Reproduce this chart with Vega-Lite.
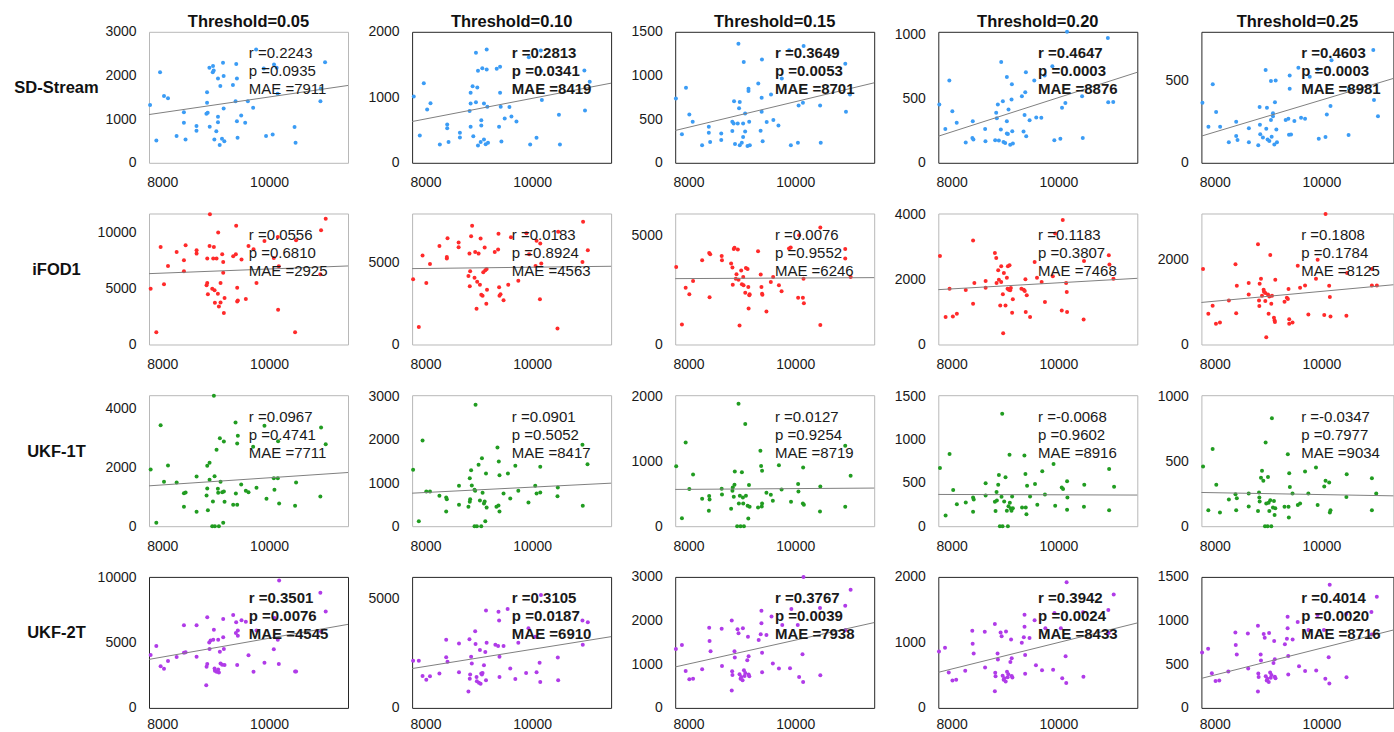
{
"$schema":"https://vega.github.io/schema/vega-lite/v6.json",
"padding":{"left":13,"top":12.8,"right":0,"bottom":0},
"background":"white",
"config":{
 "font":"Liberation Sans",
 "view":{"strokeWidth":1},
 "axis":{"grid":false,"ticks":false,"domain":false,"labelFontSize":14,"labelColor":"#1a1a1a","labelPadding":13,"labelFont":"Liberation Sans"},
 "axisY":{"titleAngle":0,"titleAlign":"center","titleBaseline":"middle","titleX":-93,"titleY":56,"titleFontSize":16.5,"titleFontWeight":"bold","titleColor":"#111111","titleFont":"Liberation Sans"},
 "title":{"fontSize":16.5,"fontWeight":"bold","offset":1.5,"frame":"group","anchor":"middle","color":"#111111","font":"Liberation Sans"}
},
"datasets":{
"a1":[{"x":7770,"y":1321},{"x":7888,"y":511},{"x":7957,"y":2076},{"x":8031,"y":1527},{"x":8106,"y":1481},{"x":8267,"y":611},{"x":8404,"y":1160},{"x":8404,"y":916},{"x":8435,"y":534},{"x":8640,"y":840},{"x":8640,"y":733},{"x":8838,"y":1618},{"x":8838,"y":1374},{"x":8826,"y":1122},{"x":8850,"y":1145},{"x":8882,"y":2176},{"x":8888,"y":824},{"x":8950,"y":2214},{"x":8963,"y":2115},{"x":8945,"y":2076},{"x":8975,"y":534},{"x":9012,"y":725},{"x":9043,"y":1931},{"x":9043,"y":1053},{"x":9043,"y":931},{"x":9087,"y":1756},{"x":9075,"y":405},{"x":9118,"y":550},{"x":9137,"y":2290},{"x":9149,"y":1985},{"x":9149,"y":1244},{"x":9162,"y":496},{"x":9323,"y":1779},{"x":9373,"y":1412},{"x":9385,"y":2260},{"x":9398,"y":1931},{"x":9398,"y":954},{"x":9410,"y":573},{"x":9478,"y":1084},{"x":9553,"y":916},{"x":9603,"y":1412},{"x":9702,"y":1260},{"x":9758,"y":2596},{"x":9901,"y":2160},{"x":9944,"y":611},{"x":10068,"y":649},{"x":10093,"y":2252},{"x":10143,"y":2176},{"x":10161,"y":1580},{"x":10478,"y":817},{"x":10497,"y":458},{"x":10963,"y":1412},{"x":10969,"y":1695},{"x":11050,"y":2305}],
"a2":[{"x":7781,"y":1013},{"x":7894,"y":417},{"x":7969,"y":1216},{"x":8032,"y":814},{"x":8095,"y":911},{"x":8270,"y":280},{"x":8408,"y":585},{"x":8408,"y":529},{"x":8433,"y":316},{"x":8646,"y":458},{"x":8646,"y":387},{"x":8847,"y":1069},{"x":8847,"y":906},{"x":8828,"y":789},{"x":8847,"y":550},{"x":8884,"y":1170},{"x":8897,"y":407},{"x":8947,"y":1679},{"x":8947,"y":926},{"x":8972,"y":1150},{"x":8985,"y":1405},{"x":8985,"y":265},{"x":9035,"y":316},{"x":9047,"y":651},{"x":9047,"y":570},{"x":9066,"y":1445},{"x":9097,"y":906},{"x":9097,"y":356},{"x":9129,"y":285},{"x":9148,"y":1730},{"x":9148,"y":1425},{"x":9160,"y":855},{"x":9173,"y":305},{"x":9336,"y":1435},{"x":9380,"y":550},{"x":9399,"y":1466},{"x":9399,"y":1069},{"x":9411,"y":855},{"x":9424,"y":326},{"x":9486,"y":677},{"x":9574,"y":850},{"x":9612,"y":707},{"x":9706,"y":631},{"x":9938,"y":1613},{"x":9963,"y":280},{"x":10082,"y":382},{"x":10163,"y":1715},{"x":10182,"y":957},{"x":10170,"y":1400},{"x":10502,"y":733},{"x":10521,"y":280},{"x":10979,"y":1410},{"x":10991,"y":799},{"x":11079,"y":1237}],
"a3":[{"x":7763,"y":737},{"x":7876,"y":328},{"x":7952,"y":859},{"x":8015,"y":553},{"x":8078,"y":469},{"x":8254,"y":202},{"x":8380,"y":412},{"x":8380,"y":344},{"x":8405,"y":237},{"x":8613,"y":336},{"x":8613,"y":260},{"x":8821,"y":469},{"x":8821,"y":363},{"x":8853,"y":706},{"x":8846,"y":450},{"x":8871,"y":214},{"x":8922,"y":450},{"x":8935,"y":1363},{"x":8960,"y":695},{"x":8947,"y":626},{"x":8960,"y":202},{"x":8998,"y":229},{"x":9023,"y":450},{"x":9023,"y":294},{"x":9035,"y":1153},{"x":9061,"y":565},{"x":9061,"y":359},{"x":9105,"y":191},{"x":9124,"y":821},{"x":9124,"y":847},{"x":9137,"y":469},{"x":9149,"y":202},{"x":9307,"y":908},{"x":9351,"y":366},{"x":9370,"y":744},{"x":9370,"y":584},{"x":9376,"y":1183},{"x":9389,"y":248},{"x":9465,"y":466},{"x":9546,"y":782},{"x":9590,"y":489},{"x":9685,"y":427},{"x":9748,"y":966},{"x":9886,"y":1290},{"x":9918,"y":202},{"x":10050,"y":229},{"x":10063,"y":656},{"x":10144,"y":687},{"x":10157,"y":1336},{"x":10466,"y":656},{"x":10478,"y":229},{"x":10938,"y":1134},{"x":10951,"y":584},{"x":11026,"y":782}],
"a4":[{"x":7769,"y":453},{"x":7882,"y":264},{"x":7957,"y":640},{"x":8013,"y":402},{"x":8095,"y":311},{"x":8264,"y":158},{"x":8396,"y":324},{"x":8389,"y":194},{"x":8408,"y":181},{"x":8628,"y":264},{"x":8634,"y":168},{"x":8816,"y":176},{"x":8835,"y":389},{"x":8847,"y":347},{"x":8866,"y":453},{"x":8885,"y":173},{"x":8922,"y":259},{"x":8929,"y":785},{"x":8960,"y":479},{"x":8972,"y":161},{"x":9004,"y":155},{"x":9035,"y":668},{"x":9035,"y":324},{"x":9035,"y":228},{"x":9054,"y":225},{"x":9066,"y":415},{"x":9098,"y":140},{"x":9123,"y":492},{"x":9129,"y":611},{"x":9136,"y":246},{"x":9148,"y":150},{"x":9317,"y":518},{"x":9348,"y":243},{"x":9367,"y":373},{"x":9380,"y":549},{"x":9392,"y":705},{"x":9398,"y":207},{"x":9461,"y":332},{"x":9549,"y":640},{"x":9586,"y":352},{"x":9681,"y":350},{"x":9744,"y":679},{"x":9888,"y":751},{"x":9925,"y":176},{"x":10038,"y":187},{"x":10069,"y":428},{"x":10132,"y":466},{"x":10163,"y":1020},{"x":10445,"y":518},{"x":10458,"y":194},{"x":10928,"y":972},{"x":10935,"y":472},{"x":11029,"y":474}],
"a5":[{"x":7769,"y":364},{"x":7882,"y":219},{"x":7963,"y":476},{"x":8026,"y":308},{"x":8101,"y":219},{"x":8264,"y":125},{"x":8402,"y":249},{"x":8402,"y":162},{"x":8427,"y":138},{"x":8640,"y":210},{"x":8640,"y":125},{"x":8816,"y":107},{"x":8841,"y":338},{"x":8847,"y":231},{"x":8853,"y":174},{"x":8903,"y":154},{"x":8954,"y":563},{"x":8979,"y":334},{"x":8966,"y":206},{"x":8991,"y":142},{"x":9023,"y":132},{"x":9054,"y":496},{"x":9054,"y":259},{"x":9067,"y":158},{"x":9092,"y":300},{"x":9092,"y":283},{"x":9117,"y":111},{"x":9129,"y":368},{"x":9142,"y":500},{"x":9155,"y":202},{"x":9167,"y":125},{"x":9330,"y":259},{"x":9380,"y":267},{"x":9405,"y":530},{"x":9405,"y":449},{"x":9392,"y":170},{"x":9430,"y":172},{"x":9493,"y":253},{"x":9568,"y":577},{"x":9618,"y":273},{"x":9693,"y":267},{"x":9781,"y":522},{"x":9932,"y":567},{"x":9950,"y":146},{"x":10076,"y":156},{"x":10101,"y":293},{"x":10170,"y":344},{"x":10189,"y":623},{"x":10509,"y":168},{"x":10515,"y":449},{"x":10972,"y":684},{"x":10985,"y":381},{"x":11060,"y":283}],
"b1":[{"x":7781,"y":4985},{"x":7887,"y":1104},{"x":7968,"y":8716},{"x":8031,"y":5373},{"x":8106,"y":7015},{"x":8268,"y":8268},{"x":8405,"y":7522},{"x":8405,"y":6537},{"x":8436,"y":8865},{"x":8642,"y":8418},{"x":8642,"y":8119},{"x":8842,"y":7671},{"x":8842,"y":5492},{"x":8829,"y":5283},{"x":8854,"y":4477},{"x":8885,"y":8805},{"x":8892,"y":11641},{"x":8954,"y":7671},{"x":8966,"y":8716},{"x":8935,"y":4985},{"x":8979,"y":4836},{"x":8985,"y":3731},{"x":9016,"y":7671},{"x":9041,"y":4537},{"x":9047,"y":10000},{"x":9060,"y":3403},{"x":9091,"y":5492},{"x":9091,"y":3761},{"x":9122,"y":8060},{"x":9141,"y":7373},{"x":9141,"y":6418},{"x":9153,"y":2806},{"x":9166,"y":4149},{"x":9328,"y":7880},{"x":9378,"y":8060},{"x":9384,"y":10597},{"x":9403,"y":5075},{"x":9403,"y":3851},{"x":9415,"y":3940},{"x":9484,"y":7582},{"x":9565,"y":4060},{"x":9615,"y":8806},{"x":9709,"y":8507},{"x":9765,"y":5492},{"x":9914,"y":9254},{"x":10089,"y":7731},{"x":10164,"y":9612},{"x":10170,"y":3104},{"x":10183,"y":6985},{"x":10488,"y":1104},{"x":10507,"y":9314},{"x":10962,"y":6269},{"x":10975,"y":10209},{"x":11062,"y":11224}],
"b2":[{"x":7769,"y":3996},{"x":7876,"y":1066},{"x":7946,"y":5451},{"x":8016,"y":3771},{"x":8085,"y":4938},{"x":8262,"y":6045},{"x":8401,"y":5266},{"x":8401,"y":5368},{"x":8414,"y":6516},{"x":8622,"y":6250},{"x":8622,"y":5963},{"x":8806,"y":4200},{"x":8825,"y":5573},{"x":8831,"y":3565},{"x":8838,"y":4487},{"x":8856,"y":6639},{"x":8875,"y":7274},{"x":8920,"y":4098},{"x":8932,"y":5676},{"x":8958,"y":2192},{"x":8970,"y":3852},{"x":8996,"y":5573},{"x":9021,"y":3668},{"x":9034,"y":6495},{"x":9046,"y":3053},{"x":9071,"y":2991},{"x":9084,"y":4426},{"x":9110,"y":5942},{"x":9122,"y":4549},{"x":9141,"y":2500},{"x":9147,"y":4631},{"x":9154,"y":3360},{"x":9299,"y":5676},{"x":9362,"y":5819},{"x":9369,"y":6782},{"x":9381,"y":3504},{"x":9388,"y":2991},{"x":9407,"y":3073},{"x":9464,"y":2705},{"x":9552,"y":3668},{"x":9603,"y":6577},{"x":9741,"y":3914},{"x":9893,"y":6823},{"x":9943,"y":5532},{"x":10064,"y":4815},{"x":10083,"y":6352},{"x":10152,"y":6188},{"x":10146,"y":2766},{"x":10171,"y":4958},{"x":10488,"y":6905},{"x":10475,"y":984},{"x":10943,"y":5061},{"x":10955,"y":7520},{"x":11044,"y":5778}],
"b3":[{"x":7769,"y":3559},{"x":7876,"y":920},{"x":7946,"y":2608},{"x":8015,"y":2301},{"x":8085,"y":2915},{"x":8255,"y":3866},{"x":8387,"y":4203},{"x":8406,"y":4142},{"x":8394,"y":2163},{"x":8621,"y":4065},{"x":8627,"y":3866},{"x":8798,"y":3712},{"x":8823,"y":3528},{"x":8829,"y":2746},{"x":8848,"y":4387},{"x":8861,"y":4433},{"x":8886,"y":3022},{"x":8899,"y":3221},{"x":8924,"y":4356},{"x":8937,"y":2976},{"x":8956,"y":874},{"x":8987,"y":3390},{"x":9000,"y":2761},{"x":9025,"y":3099},{"x":9031,"y":2715},{"x":9063,"y":2378},{"x":9076,"y":3513},{"x":9107,"y":3467},{"x":9120,"y":2638},{"x":9126,"y":1657},{"x":9139,"y":2255},{"x":9145,"y":2301},{"x":9303,"y":4280},{"x":9353,"y":3206},{"x":9366,"y":2638},{"x":9378,"y":2332},{"x":9385,"y":2286},{"x":9460,"y":1519},{"x":9542,"y":2869},{"x":9586,"y":3099},{"x":9694,"y":2715},{"x":9744,"y":2439},{"x":9883,"y":4403},{"x":9915,"y":4449},{"x":10054,"y":2148},{"x":10073,"y":5016},{"x":10143,"y":2148},{"x":10155,"y":3022},{"x":10162,"y":1887},{"x":10470,"y":5369},{"x":10470,"y":890},{"x":10937,"y":4387},{"x":10937,"y":3942},{"x":11038,"y":3099}],
"b4":[{"x":7781,"y":2719},{"x":7887,"y":841},{"x":7961,"y":1713},{"x":8023,"y":862},{"x":8098,"y":944},{"x":8265,"y":1672},{"x":8402,"y":3191},{"x":8402,"y":1252},{"x":8426,"y":1888},{"x":8637,"y":1949},{"x":8637,"y":1744},{"x":8811,"y":2811},{"x":8836,"y":2657},{"x":8842,"y":1888},{"x":8873,"y":2278},{"x":8886,"y":1990},{"x":8911,"y":1200},{"x":8929,"y":2401},{"x":8929,"y":1919},{"x":8960,"y":1539},{"x":8966,"y":349},{"x":8979,"y":2196},{"x":9010,"y":1200},{"x":9035,"y":2052},{"x":9048,"y":1713},{"x":9054,"y":2401},{"x":9072,"y":1683},{"x":9085,"y":2432},{"x":9097,"y":1662},{"x":9110,"y":1734},{"x":9134,"y":975},{"x":9147,"y":1385},{"x":9308,"y":1713},{"x":9352,"y":1683},{"x":9371,"y":1642},{"x":9383,"y":2001},{"x":9389,"y":995},{"x":9408,"y":1508},{"x":9470,"y":841},{"x":9556,"y":2534},{"x":9600,"y":2052},{"x":9687,"y":1919},{"x":9749,"y":1303},{"x":9897,"y":2093},{"x":9941,"y":3406},{"x":10064,"y":1047},{"x":10083,"y":3817},{"x":10146,"y":1888},{"x":10158,"y":1611},{"x":10164,"y":995},{"x":10481,"y":2565},{"x":10474,"y":770},{"x":10946,"y":2739},{"x":10958,"y":2452},{"x":11033,"y":2021}],
"b5":[{"x":7781,"y":1780},{"x":7880,"y":724},{"x":7961,"y":913},{"x":8023,"y":488},{"x":8098,"y":520},{"x":8265,"y":1039},{"x":8389,"y":1890},{"x":8402,"y":740},{"x":8414,"y":1386},{"x":8637,"y":1449},{"x":8637,"y":1181},{"x":8811,"y":2362},{"x":8830,"y":1039},{"x":8836,"y":906},{"x":8842,"y":1433},{"x":8867,"y":1551},{"x":8886,"y":1150},{"x":8917,"y":1291},{"x":8923,"y":1244},{"x":8948,"y":1213},{"x":8948,"y":1024},{"x":8966,"y":173},{"x":8998,"y":1181},{"x":9010,"y":724},{"x":9023,"y":1134},{"x":9041,"y":2110},{"x":9060,"y":961},{"x":9073,"y":1150},{"x":9110,"y":630},{"x":9122,"y":567},{"x":9128,"y":528},{"x":9135,"y":1528},{"x":9308,"y":1008},{"x":9352,"y":1102},{"x":9371,"y":1071},{"x":9383,"y":1307},{"x":9396,"y":598},{"x":9396,"y":488},{"x":9458,"y":520},{"x":9556,"y":1858},{"x":9600,"y":1339},{"x":9693,"y":1394},{"x":9755,"y":709},{"x":9898,"y":1551},{"x":9929,"y":2000},{"x":10053,"y":693},{"x":10077,"y":3080},{"x":10145,"y":1386},{"x":10158,"y":1118},{"x":10170,"y":661},{"x":10468,"y":677},{"x":10480,"y":1685},{"x":10946,"y":1780},{"x":10946,"y":1394},{"x":11039,"y":1394}],
"c1":[{"x":7781,"y":1926},{"x":7887,"y":113},{"x":7968,"y":3433},{"x":8031,"y":1507},{"x":8106,"y":2062},{"x":8268,"y":1484},{"x":8405,"y":1122},{"x":8405,"y":657},{"x":8436,"y":1144},{"x":8642,"y":1688},{"x":8642,"y":487},{"x":8842,"y":2051},{"x":8842,"y":1280},{"x":8829,"y":1042},{"x":8854,"y":544},{"x":8885,"y":2153},{"x":8885,"y":1575},{"x":8935,"y":0},{"x":8948,"y":838},{"x":8966,"y":4430},{"x":8979,"y":1700},{"x":8985,"y":0},{"x":9016,"y":2595},{"x":9041,"y":1269},{"x":9047,"y":1133},{"x":9060,"y":0},{"x":9078,"y":2991},{"x":9091,"y":1507},{"x":9122,"y":1156},{"x":9141,"y":113},{"x":9153,"y":2878},{"x":9153,"y":1178},{"x":9166,"y":827},{"x":9328,"y":725},{"x":9372,"y":3524},{"x":9378,"y":1110},{"x":9403,"y":725},{"x":9403,"y":2810},{"x":9415,"y":3070},{"x":9478,"y":1416},{"x":9565,"y":1201},{"x":9615,"y":1156},{"x":9702,"y":2697},{"x":9765,"y":1303},{"x":9952,"y":929},{"x":9914,"y":3410},{"x":10089,"y":1632},{"x":10101,"y":1235},{"x":10164,"y":1632},{"x":10189,"y":770},{"x":10170,"y":2889},{"x":10488,"y":691},{"x":10507,"y":1484},{"x":10962,"y":1008},{"x":10975,"y":3354},{"x":11062,"y":2787}],
"c2":[{"x":7769,"y":1306},{"x":7876,"y":116},{"x":7946,"y":1987},{"x":8016,"y":804},{"x":8085,"y":804},{"x":8262,"y":703},{"x":8389,"y":665},{"x":8401,"y":626},{"x":8389,"y":340},{"x":8629,"y":935},{"x":8629,"y":495},{"x":8806,"y":448},{"x":8831,"y":1113},{"x":8831,"y":564},{"x":8838,"y":626},{"x":8856,"y":1299},{"x":8869,"y":943},{"x":8920,"y":843},{"x":8932,"y":819},{"x":8939,"y":2814},{"x":8920,"y":0},{"x":8964,"y":0},{"x":8996,"y":1422},{"x":9021,"y":595},{"x":9046,"y":0},{"x":9059,"y":1577},{"x":9071,"y":773},{"x":9097,"y":526},{"x":9110,"y":572},{"x":9122,"y":116},{"x":9135,"y":1221},{"x":9147,"y":433},{"x":9331,"y":448},{"x":9350,"y":1824},{"x":9369,"y":479},{"x":9375,"y":1500},{"x":9388,"y":1183},{"x":9388,"y":340},{"x":9464,"y":758},{"x":9546,"y":1221},{"x":9590,"y":642},{"x":9685,"y":1399},{"x":9741,"y":819},{"x":9931,"y":549},{"x":10058,"y":935},{"x":10083,"y":758},{"x":10152,"y":781},{"x":10152,"y":1376},{"x":10481,"y":897},{"x":10475,"y":696},{"x":10943,"y":1886},{"x":10949,"y":472},{"x":11038,"y":1438}],
"c3":[{"x":7769,"y":923},{"x":7876,"y":124},{"x":7946,"y":1289},{"x":8015,"y":572},{"x":8085,"y":799},{"x":8255,"y":423},{"x":8387,"y":464},{"x":8394,"y":412},{"x":8381,"y":237},{"x":8621,"y":577},{"x":8627,"y":490},{"x":8798,"y":268},{"x":8823,"y":546},{"x":8829,"y":598},{"x":8848,"y":454},{"x":8861,"y":639},{"x":8867,"y":845},{"x":8911,"y":0},{"x":8937,"y":1887},{"x":8943,"y":351},{"x":8962,"y":469},{"x":8975,"y":0},{"x":9000,"y":830},{"x":9019,"y":443},{"x":9025,"y":351},{"x":9038,"y":0},{"x":9063,"y":1577},{"x":9076,"y":469},{"x":9107,"y":314},{"x":9120,"y":119},{"x":9133,"y":634},{"x":9145,"y":299},{"x":9303,"y":289},{"x":9347,"y":1165},{"x":9360,"y":928},{"x":9378,"y":856},{"x":9378,"y":351},{"x":9372,"y":304},{"x":9460,"y":516},{"x":9542,"y":485},{"x":9580,"y":392},{"x":9694,"y":938},{"x":9744,"y":567},{"x":9921,"y":376},{"x":10054,"y":650},{"x":10060,"y":536},{"x":10148,"y":907},{"x":10143,"y":351},{"x":10162,"y":330},{"x":10470,"y":613},{"x":10464,"y":227},{"x":10937,"y":1242},{"x":10937,"y":299},{"x":11038,"y":778}],
"c4":[{"x":7781,"y":671},{"x":7887,"y":123},{"x":7961,"y":833},{"x":8029,"y":416},{"x":8098,"y":254},{"x":8265,"y":274},{"x":8402,"y":332},{"x":8414,"y":308},{"x":8402,"y":166},{"x":8637,"y":494},{"x":8637,"y":355},{"x":8811,"y":281},{"x":8823,"y":174},{"x":8842,"y":393},{"x":8848,"y":297},{"x":8873,"y":478},{"x":8886,"y":590},{"x":8904,"y":0},{"x":8948,"y":1296},{"x":8954,"y":0},{"x":8935,"y":339},{"x":8985,"y":285},{"x":9010,"y":563},{"x":9035,"y":177},{"x":9054,"y":0},{"x":9066,"y":231},{"x":9085,"y":825},{"x":9091,"y":270},{"x":9110,"y":204},{"x":9122,"y":177},{"x":9134,"y":343},{"x":9147,"y":208},{"x":9320,"y":216},{"x":9364,"y":814},{"x":9383,"y":602},{"x":9389,"y":216},{"x":9402,"y":139},{"x":9414,"y":467},{"x":9470,"y":343},{"x":9563,"y":486},{"x":9606,"y":247},{"x":9699,"y":632},{"x":9749,"y":366},{"x":9910,"y":717},{"x":9941,"y":235},{"x":10064,"y":447},{"x":10089,"y":428},{"x":10164,"y":517},{"x":10170,"y":332},{"x":10164,"y":189},{"x":10486,"y":478},{"x":10480,"y":224},{"x":10952,"y":659},{"x":10952,"y":185},{"x":11045,"y":455}],
"c5":[{"x":7781,"y":460},{"x":7880,"y":123},{"x":7961,"y":596},{"x":8029,"y":319},{"x":8098,"y":105},{"x":8265,"y":206},{"x":8389,"y":247},{"x":8402,"y":123},{"x":8414,"y":216},{"x":8637,"y":252},{"x":8637,"y":152},{"x":8811,"y":118},{"x":8830,"y":260},{"x":8836,"y":221},{"x":8842,"y":190},{"x":8867,"y":373},{"x":8886,"y":427},{"x":8911,"y":350},{"x":8942,"y":0},{"x":8954,"y":645},{"x":8966,"y":175},{"x":8991,"y":0},{"x":8998,"y":380},{"x":9010,"y":180},{"x":9023,"y":118},{"x":9041,"y":200},{"x":9060,"y":0},{"x":9072,"y":833},{"x":9091,"y":144},{"x":9110,"y":195},{"x":9122,"y":87},{"x":9135,"y":139},{"x":9308,"y":149},{"x":9370,"y":555},{"x":9383,"y":149},{"x":9389,"y":67},{"x":9396,"y":409},{"x":9408,"y":303},{"x":9458,"y":252},{"x":9557,"y":164},{"x":9600,"y":175},{"x":9693,"y":421},{"x":9755,"y":252},{"x":9898,"y":452},{"x":9929,"y":164},{"x":10053,"y":306},{"x":10077,"y":350},{"x":10145,"y":337},{"x":10158,"y":105},{"x":10170,"y":123},{"x":10468,"y":226},{"x":10474,"y":401},{"x":10946,"y":370},{"x":10946,"y":123},{"x":11027,"y":252}],
"d1":[{"x":7781,"y":4057},{"x":7887,"y":4755},{"x":7968,"y":3204},{"x":8031,"y":2997},{"x":8106,"y":3592},{"x":8268,"y":3902},{"x":8405,"y":6331},{"x":8405,"y":4238},{"x":8436,"y":4264},{"x":8642,"y":6331},{"x":8642,"y":3928},{"x":8842,"y":6951},{"x":8842,"y":3359},{"x":8829,"y":3152},{"x":8823,"y":1731},{"x":8879,"y":5013},{"x":8885,"y":4522},{"x":8904,"y":5168},{"x":8954,"y":5220},{"x":8966,"y":5995},{"x":8979,"y":3023},{"x":8985,"y":2842},{"x":9016,"y":2765},{"x":9047,"y":5220},{"x":9047,"y":2946},{"x":9060,"y":2713},{"x":9078,"y":4315},{"x":9091,"y":3411},{"x":9122,"y":3308},{"x":9141,"y":6822},{"x":9141,"y":5426},{"x":9153,"y":4522},{"x":9166,"y":3282},{"x":9328,"y":7132},{"x":9378,"y":5737},{"x":9384,"y":6563},{"x":9403,"y":3282},{"x":9415,"y":5943},{"x":9415,"y":5530},{"x":9484,"y":6718},{"x":9565,"y":6615},{"x":9615,"y":4031},{"x":9709,"y":2765},{"x":9765,"y":5943},{"x":9914,"y":3463},{"x":10089,"y":4496},{"x":10101,"y":6899},{"x":10164,"y":5220},{"x":10183,"y":3359},{"x":10189,"y":9768},{"x":10488,"y":2791},{"x":10507,"y":2791},{"x":10962,"y":8837},{"x":10975,"y":5866},{"x":11062,"y":7390}],
"d2":[{"x":7769,"y":2148},{"x":7876,"y":2148},{"x":7946,"y":1457},{"x":8016,"y":1289},{"x":8085,"y":1442},{"x":8262,"y":1565},{"x":8389,"y":3114},{"x":8389,"y":2316},{"x":8414,"y":2102},{"x":8629,"y":2945},{"x":8629,"y":1626},{"x":8806,"y":752},{"x":8825,"y":3129},{"x":8838,"y":1519},{"x":8831,"y":1335},{"x":8856,"y":2332},{"x":8869,"y":2025},{"x":8932,"y":3498},{"x":8939,"y":2915},{"x":8958,"y":1411},{"x":8964,"y":1212},{"x":9002,"y":1151},{"x":9021,"y":2638},{"x":9034,"y":1104},{"x":9046,"y":1565},{"x":9059,"y":1519},{"x":9071,"y":1595},{"x":9097,"y":1948},{"x":9122,"y":2546},{"x":9135,"y":1258},{"x":9147,"y":2976},{"x":9135,"y":4449},{"x":9311,"y":2884},{"x":9362,"y":2823},{"x":9369,"y":4387},{"x":9381,"y":3988},{"x":9388,"y":2332},{"x":9388,"y":1411},{"x":9464,"y":2823},{"x":9540,"y":4510},{"x":9590,"y":1795},{"x":9685,"y":1319},{"x":9741,"y":2976},{"x":9887,"y":1595},{"x":9931,"y":3636},{"x":10058,"y":3252},{"x":10083,"y":1626},{"x":10140,"y":2056},{"x":10152,"y":1181},{"x":10165,"y":5154},{"x":10481,"y":2301},{"x":10488,"y":1258},{"x":10943,"y":3988},{"x":10949,"y":2884},{"x":11044,"y":3912}],
"d3":[{"x":7763,"y":1346},{"x":7876,"y":1438},{"x":7946,"y":846},{"x":8015,"y":654},{"x":8085,"y":669},{"x":8255,"y":885},{"x":8387,"y":1838},{"x":8394,"y":1531},{"x":8413,"y":1300},{"x":8621,"y":1815},{"x":8627,"y":962},{"x":8810,"y":2000},{"x":8817,"y":838},{"x":8823,"y":754},{"x":8810,"y":400},{"x":8861,"y":1300},{"x":8867,"y":1154},{"x":8918,"y":1800},{"x":8937,"y":1708},{"x":8956,"y":769},{"x":8975,"y":669},{"x":8987,"y":708},{"x":9013,"y":631},{"x":9019,"y":1823},{"x":9038,"y":862},{"x":9050,"y":731},{"x":9063,"y":800},{"x":9101,"y":1092},{"x":9114,"y":1631},{"x":9126,"y":762},{"x":9126,"y":1185},{"x":9139,"y":723},{"x":9315,"y":1554},{"x":9353,"y":1685},{"x":9366,"y":2223},{"x":9366,"y":1938},{"x":9378,"y":1262},{"x":9378,"y":815},{"x":9460,"y":1669},{"x":9580,"y":1015},{"x":9555,"y":2092},{"x":9694,"y":900},{"x":9757,"y":1900},{"x":9902,"y":908},{"x":9927,"y":2262},{"x":10047,"y":1900},{"x":10073,"y":708},{"x":10136,"y":1231},{"x":10148,"y":592},{"x":10155,"y":3000},{"x":10470,"y":746},{"x":10464,"y":2285},{"x":10937,"y":2338},{"x":10944,"y":1785},{"x":11038,"y":2708}],
"d4":[{"x":7763,"y":861},{"x":7876,"y":920},{"x":7946,"y":541},{"x":8015,"y":419},{"x":8085,"y":428},{"x":8255,"y":566},{"x":8387,"y":1176},{"x":8394,"y":980},{"x":8413,"y":832},{"x":8621,"y":1162},{"x":8627,"y":616},{"x":8810,"y":1280},{"x":8817,"y":536},{"x":8823,"y":483},{"x":8810,"y":256},{"x":8861,"y":832},{"x":8867,"y":739},{"x":8918,"y":1152},{"x":8937,"y":1093},{"x":8956,"y":492},{"x":8975,"y":428},{"x":8987,"y":453},{"x":9013,"y":404},{"x":9019,"y":1167},{"x":9038,"y":552},{"x":9050,"y":468},{"x":9063,"y":512},{"x":9101,"y":699},{"x":9114,"y":1044},{"x":9126,"y":488},{"x":9126,"y":758},{"x":9139,"y":463},{"x":9315,"y":995},{"x":9353,"y":1078},{"x":9366,"y":1423},{"x":9366,"y":1240},{"x":9378,"y":808},{"x":9378,"y":522},{"x":9460,"y":1068},{"x":9580,"y":650},{"x":9555,"y":1339},{"x":9694,"y":576},{"x":9757,"y":1216},{"x":9902,"y":581},{"x":9927,"y":1448},{"x":10047,"y":1216},{"x":10073,"y":453},{"x":10136,"y":788},{"x":10148,"y":379},{"x":10155,"y":1920},{"x":10470,"y":477},{"x":10464,"y":1462},{"x":10937,"y":1496},{"x":10944,"y":1142},{"x":11038,"y":1733}],
"d5":[{"x":7763,"y":633},{"x":7876,"y":676},{"x":7946,"y":398},{"x":8015,"y":307},{"x":8085,"y":314},{"x":8255,"y":416},{"x":8387,"y":864},{"x":8394,"y":720},{"x":8413,"y":611},{"x":8621,"y":853},{"x":8627,"y":452},{"x":8810,"y":940},{"x":8817,"y":394},{"x":8823,"y":354},{"x":8810,"y":188},{"x":8861,"y":611},{"x":8867,"y":542},{"x":8918,"y":846},{"x":8937,"y":803},{"x":8956,"y":361},{"x":8975,"y":314},{"x":8987,"y":333},{"x":9013,"y":297},{"x":9019,"y":857},{"x":9038,"y":405},{"x":9050,"y":344},{"x":9063,"y":376},{"x":9101,"y":513},{"x":9114,"y":767},{"x":9126,"y":358},{"x":9126,"y":557},{"x":9139,"y":340},{"x":9315,"y":730},{"x":9353,"y":792},{"x":9366,"y":1045},{"x":9366,"y":911},{"x":9378,"y":593},{"x":9378,"y":383},{"x":9460,"y":784},{"x":9580,"y":477},{"x":9555,"y":983},{"x":9694,"y":423},{"x":9757,"y":893},{"x":9902,"y":427},{"x":9927,"y":1063},{"x":10047,"y":893},{"x":10073,"y":333},{"x":10136,"y":579},{"x":10148,"y":278},{"x":10155,"y":1410},{"x":10470,"y":351},{"x":10464,"y":1074},{"x":10937,"y":1099},{"x":10944,"y":839},{"x":11038,"y":1273}],
"fits":[
{"k":"a1","x1":7750,"y1":1105,"x2":11480,"y2":1771},{"k":"a2","x1":7750,"y1":630,"x2":11480,"y2":1216},{"k":"a3","x1":7750,"y1":370,"x2":11480,"y2":916},{"k":"a4","x1":7750,"y1":207,"x2":11480,"y2":705},{"k":"a5","x1":7750,"y1":162,"x2":11349,"y2":512},
{"k":"b1","x1":7750,"y1":6328,"x2":11480,"y2":7015},{"k":"b2","x1":7750,"y1":4651,"x2":11480,"y2":4795},{"k":"b3","x1":7750,"y1":3022,"x2":11480,"y2":3068},{"k":"b4","x1":7750,"y1":1683,"x2":11480,"y2":2031},{"k":"b5","x1":7750,"y1":992,"x2":11349,"y2":1409},
{"k":"c1","x1":7750,"y1":1371,"x2":11480,"y2":1824},{"k":"c2","x1":7750,"y1":765,"x2":11480,"y2":997},{"k":"c3","x1":7750,"y1":567,"x2":11480,"y2":588},{"k":"c4","x1":7750,"y1":366,"x2":11480,"y2":359},{"k":"c5","x1":7750,"y1":260,"x2":11349,"y2":234},
{"k":"d1","x1":7750,"y1":3721,"x2":11480,"y2":6408},{"k":"d2","x1":7750,"y1":1795,"x2":11480,"y2":3252},{"k":"d3","x1":7750,"y1":938,"x2":11480,"y2":1954},{"k":"d4","x1":7750,"y1":543,"x2":11480,"y2":1297},{"k":"d5","x1":7750,"y1":338,"x2":11349,"y2":892}],
"notes":[
{"k":"a1","label":"r =0.2243\np =0.0935\nMAE =7911"},{"k":"a2","label":"r =0.2813\np =0.0341\nMAE =8419"},{"k":"a3","label":"r =0.3649\np =0.0053\nMAE =8701"},{"k":"a4","label":"r =0.4647\np =0.0003\nMAE =8876"},{"k":"a5","label":"r =0.4603\np =0.0003\nMAE =8981"},
{"k":"b1","label":"r =0.0556\np =0.6810\nMAE =2925"},{"k":"b2","label":"r =0.0183\np =0.8924\nMAE =4563"},{"k":"b3","label":"r =0.0076\np =0.9552\nMAE =6246"},{"k":"b4","label":"r =0.1183\np =0.3807\nMAE =7468"},{"k":"b5","label":"r =0.1808\np =0.1784\nMAE =8125"},
{"k":"c1","label":"r =0.0967\np =0.4741\nMAE =7711"},{"k":"c2","label":"r =0.0901\np =0.5052\nMAE =8417"},{"k":"c3","label":"r =0.0127\np =0.9254\nMAE =8719"},{"k":"c4","label":"r =-0.0068\np =0.9602\nMAE =8916"},{"k":"c5","label":"r =-0.0347\np =0.7977\nMAE =9034"},
{"k":"d1","label":"r =0.3501\np =0.0076\nMAE =4545"},{"k":"d2","label":"r =0.3105\np =0.0187\nMAE =6910"},{"k":"d3","label":"r =0.3767\np =0.0039\nMAE =7938"},{"k":"d4","label":"r =0.3942\np =0.0024\nMAE =8433"},{"k":"d5","label":"r =0.4014\np =0.0020\nMAE =8716"}]
},
"columns":5,
"spacing":{"row":50.7,"column":64.1},
"bounds":"flush",
"align":"each",
"concat":[
{"width":199,"height":131,"view":{"stroke":"#b8b8b8"},"title":{"text":"Threshold=0.05","dy":7.5},"layer":[
 {"data":{"name":"a1"},"mark":{"type":"circle","size":16,"opacity":1,"color":"#3b9cf5"},"encoding":{"x":{"field":"x","type":"quantitative","scale":{"domain":[7750,11480],"nice":false},"axis":{"values":[8000,10000],"format":"d"},"title":null},"y":{"field":"y","type":"quantitative","scale":{"domain":[0,3000],"nice":false},"axis":{"values":[0,1000,2000,3000],"format":"d"},"title":"SD-Stream"}}},
 {"data":{"name":"fits"},"transform":[{"filter":"datum.k==='a1'"}],"mark":{"type":"rule","color":"#808080","strokeWidth":1},"encoding":{"x":{"field":"x1","type":"quantitative","title":null},"y":{"field":"y1","type":"quantitative","title":"SD-Stream"},"x2":{"field":"x2"},"y2":{"field":"y2"}}},
 {"data":{"name":"notes"},"transform":[{"filter":"datum.k==='a1'"}],"mark":{"type":"text","align":"left","baseline":"top","lineBreak":"\n","lineHeight":18,"fontSize":15,"fontWeight":"normal","color":"#1a1a1a"},"encoding":{"text":{"field":"label"},"x":{"datum":9620,"type":"quantitative","title":null},"y":{"datum":2668,"type":"quantitative","title":"SD-Stream"}}}]},
{"width":199,"height":131,"view":{"stroke":"#262626"},"title":{"text":"Threshold=0.10","dy":7.5},"layer":[
 {"data":{"name":"a2"},"mark":{"type":"circle","size":16,"opacity":1,"color":"#3b9cf5"},"encoding":{"x":{"field":"x","type":"quantitative","scale":{"domain":[7750,11480],"nice":false},"axis":{"values":[8000,10000],"format":"d"},"title":null},"y":{"field":"y","type":"quantitative","scale":{"domain":[0,2000],"nice":false},"axis":{"values":[0,1000,2000],"format":"d"},"title":null}}},
 {"data":{"name":"fits"},"transform":[{"filter":"datum.k==='a2'"}],"mark":{"type":"rule","color":"#808080","strokeWidth":1},"encoding":{"x":{"field":"x1","type":"quantitative","title":null},"y":{"field":"y1","type":"quantitative","title":null},"x2":{"field":"x2"},"y2":{"field":"y2"}}},
 {"data":{"name":"notes"},"transform":[{"filter":"datum.k==='a2'"}],"mark":{"type":"text","align":"left","baseline":"top","lineBreak":"\n","lineHeight":18,"fontSize":15,"fontWeight":"bold","color":"#1a1a1a"},"encoding":{"text":{"field":"label"},"x":{"datum":9620,"type":"quantitative","title":null},"y":{"datum":1779,"type":"quantitative","title":null}}}]},
{"width":199,"height":131,"view":{"stroke":"#262626"},"title":{"text":"Threshold=0.15","dy":7.5},"layer":[
 {"data":{"name":"a3"},"mark":{"type":"circle","size":16,"opacity":1,"color":"#3b9cf5"},"encoding":{"x":{"field":"x","type":"quantitative","scale":{"domain":[7750,11480],"nice":false},"axis":{"values":[8000,10000],"format":"d"},"title":null},"y":{"field":"y","type":"quantitative","scale":{"domain":[0,1500],"nice":false},"axis":{"values":[0,500,1000,1500],"format":"d"},"title":null}}},
 {"data":{"name":"fits"},"transform":[{"filter":"datum.k==='a3'"}],"mark":{"type":"rule","color":"#808080","strokeWidth":1},"encoding":{"x":{"field":"x1","type":"quantitative","title":null},"y":{"field":"y1","type":"quantitative","title":null},"x2":{"field":"x2"},"y2":{"field":"y2"}}},
 {"data":{"name":"notes"},"transform":[{"filter":"datum.k==='a3'"}],"mark":{"type":"text","align":"left","baseline":"top","lineBreak":"\n","lineHeight":18,"fontSize":15,"fontWeight":"bold","color":"#1a1a1a"},"encoding":{"text":{"field":"label"},"x":{"datum":9620,"type":"quantitative","title":null},"y":{"datum":1334,"type":"quantitative","title":null}}}]},
{"width":199,"height":131,"view":{"stroke":"#262626"},"title":{"text":"Threshold=0.20","dy":4.4},"layer":[
 {"data":{"name":"a4"},"mark":{"type":"circle","size":16,"opacity":1,"color":"#3b9cf5"},"encoding":{"x":{"field":"x","type":"quantitative","scale":{"domain":[7750,11480],"nice":false},"axis":{"values":[8000,10000],"format":"d"},"title":null},"y":{"field":"y","type":"quantitative","scale":{"domain":[0,1020],"nice":false},"axis":{"values":[0,500,1000],"format":"d"},"title":null}}},
 {"data":{"name":"fits"},"transform":[{"filter":"datum.k==='a4'"}],"mark":{"type":"rule","color":"#808080","strokeWidth":1},"encoding":{"x":{"field":"x1","type":"quantitative","title":null},"y":{"field":"y1","type":"quantitative","title":null},"x2":{"field":"x2"},"y2":{"field":"y2"}}},
 {"data":{"name":"notes"},"transform":[{"filter":"datum.k==='a4'"}],"mark":{"type":"text","align":"left","baseline":"top","lineBreak":"\n","lineHeight":18,"fontSize":15,"fontWeight":"bold","color":"#1a1a1a"},"encoding":{"text":{"field":"label"},"x":{"datum":9620,"type":"quantitative","title":null},"y":{"datum":907,"type":"quantitative","title":null}}}]},
{"width":192,"height":131,"view":{"stroke":"#262626"},"title":{"text":"Threshold=0.25","dy":0},"layer":[
 {"data":{"name":"a5"},"mark":{"type":"circle","size":16,"opacity":1,"color":"#3b9cf5"},"encoding":{"x":{"field":"x","type":"quantitative","scale":{"domain":[7750,11349],"nice":false},"axis":{"values":[8000,10000],"format":"d"},"title":null},"y":{"field":"y","type":"quantitative","scale":{"domain":[0,795],"nice":false},"axis":{"values":[0,500],"format":"d"},"title":null}}},
 {"data":{"name":"fits"},"transform":[{"filter":"datum.k==='a5'"}],"mark":{"type":"rule","color":"#808080","strokeWidth":1},"encoding":{"x":{"field":"x1","type":"quantitative","title":null},"y":{"field":"y1","type":"quantitative","title":null},"x2":{"field":"x2"},"y2":{"field":"y2"}}},
 {"data":{"name":"notes"},"transform":[{"filter":"datum.k==='a5'"}],"mark":{"type":"text","align":"left","baseline":"top","lineBreak":"\n","lineHeight":18,"fontSize":15,"fontWeight":"bold","color":"#1a1a1a"},"encoding":{"text":{"field":"label"},"x":{"datum":9620,"type":"quantitative","title":null},"y":{"datum":707,"type":"quantitative","title":null}}}]},

{"width":199,"height":131,"view":{"stroke":"#b8b8b8"},"layer":[
 {"data":{"name":"b1"},"mark":{"type":"circle","size":16,"opacity":1,"color":"#ff2a2a"},"encoding":{"x":{"field":"x","type":"quantitative","scale":{"domain":[7750,11480],"nice":false},"axis":{"values":[8000,10000],"format":"d"},"title":null},"y":{"field":"y","type":"quantitative","scale":{"domain":[0,11700],"nice":false},"axis":{"values":[0,5000,10000],"format":"d"},"title":"iFOD1"}}},
 {"data":{"name":"fits"},"transform":[{"filter":"datum.k==='b1'"}],"mark":{"type":"rule","color":"#808080","strokeWidth":1},"encoding":{"x":{"field":"x1","type":"quantitative","title":null},"y":{"field":"y1","type":"quantitative","title":"iFOD1"},"x2":{"field":"x2"},"y2":{"field":"y2"}}},
 {"data":{"name":"notes"},"transform":[{"filter":"datum.k==='b1'"}],"mark":{"type":"text","align":"left","baseline":"top","lineBreak":"\n","lineHeight":18,"fontSize":15,"fontWeight":"normal","color":"#1a1a1a"},"encoding":{"text":{"field":"label"},"x":{"datum":9620,"type":"quantitative","title":null},"y":{"datum":10405,"type":"quantitative","title":"iFOD1"}}}]},
{"width":199,"height":131,"view":{"stroke":"#b8b8b8"},"layer":[
 {"data":{"name":"b2"},"mark":{"type":"circle","size":16,"opacity":1,"color":"#ff2a2a"},"encoding":{"x":{"field":"x","type":"quantitative","scale":{"domain":[7750,11480],"nice":false},"axis":{"values":[8000,10000],"format":"d"},"title":null},"y":{"field":"y","type":"quantitative","scale":{"domain":[0,8030],"nice":false},"axis":{"values":[0,5000],"format":"d"},"title":null}}},
 {"data":{"name":"fits"},"transform":[{"filter":"datum.k==='b2'"}],"mark":{"type":"rule","color":"#808080","strokeWidth":1},"encoding":{"x":{"field":"x1","type":"quantitative","title":null},"y":{"field":"y1","type":"quantitative","title":null},"x2":{"field":"x2"},"y2":{"field":"y2"}}},
 {"data":{"name":"notes"},"transform":[{"filter":"datum.k==='b2'"}],"mark":{"type":"text","align":"left","baseline":"top","lineBreak":"\n","lineHeight":18,"fontSize":15,"fontWeight":"normal","color":"#1a1a1a"},"encoding":{"text":{"field":"label"},"x":{"datum":9620,"type":"quantitative","title":null},"y":{"datum":7141,"type":"quantitative","title":null}}}]},
{"width":199,"height":131,"view":{"stroke":"#b8b8b8"},"layer":[
 {"data":{"name":"b3"},"mark":{"type":"circle","size":16,"opacity":1,"color":"#ff2a2a"},"encoding":{"x":{"field":"x","type":"quantitative","scale":{"domain":[7750,11480],"nice":false},"axis":{"values":[8000,10000],"format":"d"},"title":null},"y":{"field":"y","type":"quantitative","scale":{"domain":[0,6010],"nice":false},"axis":{"values":[0,5000],"format":"d"},"title":null}}},
 {"data":{"name":"fits"},"transform":[{"filter":"datum.k==='b3'"}],"mark":{"type":"rule","color":"#808080","strokeWidth":1},"encoding":{"x":{"field":"x1","type":"quantitative","title":null},"y":{"field":"y1","type":"quantitative","title":null},"x2":{"field":"x2"},"y2":{"field":"y2"}}},
 {"data":{"name":"notes"},"transform":[{"filter":"datum.k==='b3'"}],"mark":{"type":"text","align":"left","baseline":"top","lineBreak":"\n","lineHeight":18,"fontSize":15,"fontWeight":"normal","color":"#1a1a1a"},"encoding":{"text":{"field":"label"},"x":{"datum":9620,"type":"quantitative","title":null},"y":{"datum":5345,"type":"quantitative","title":null}}}]},
{"width":199,"height":131,"view":{"stroke":"#b8b8b8"},"layer":[
 {"data":{"name":"b4"},"mark":{"type":"circle","size":16,"opacity":1,"color":"#ff2a2a"},"encoding":{"x":{"field":"x","type":"quantitative","scale":{"domain":[7750,11480],"nice":false},"axis":{"values":[8000,10000],"format":"d"},"title":null},"y":{"field":"y","type":"quantitative","scale":{"domain":[0,4020],"nice":false},"axis":{"values":[0,2000,4000],"format":"d"},"title":null}}},
 {"data":{"name":"fits"},"transform":[{"filter":"datum.k==='b4'"}],"mark":{"type":"rule","color":"#808080","strokeWidth":1},"encoding":{"x":{"field":"x1","type":"quantitative","title":null},"y":{"field":"y1","type":"quantitative","title":null},"x2":{"field":"x2"},"y2":{"field":"y2"}}},
 {"data":{"name":"notes"},"transform":[{"filter":"datum.k==='b4'"}],"mark":{"type":"text","align":"left","baseline":"top","lineBreak":"\n","lineHeight":18,"fontSize":15,"fontWeight":"normal","color":"#1a1a1a"},"encoding":{"text":{"field":"label"},"x":{"datum":9620,"type":"quantitative","title":null},"y":{"datum":3575,"type":"quantitative","title":null}}}]},
{"width":192,"height":131,"view":{"stroke":"#b8b8b8"},"layer":[
 {"data":{"name":"b5"},"mark":{"type":"circle","size":16,"opacity":1,"color":"#ff2a2a"},"encoding":{"x":{"field":"x","type":"quantitative","scale":{"domain":[7750,11349],"nice":false},"axis":{"values":[8000,10000],"format":"d"},"title":null},"y":{"field":"y","type":"quantitative","scale":{"domain":[0,3090],"nice":false},"axis":{"values":[0,2000],"format":"d"},"title":null}}},
 {"data":{"name":"fits"},"transform":[{"filter":"datum.k==='b5'"}],"mark":{"type":"rule","color":"#808080","strokeWidth":1},"encoding":{"x":{"field":"x1","type":"quantitative","title":null},"y":{"field":"y1","type":"quantitative","title":null},"x2":{"field":"x2"},"y2":{"field":"y2"}}},
 {"data":{"name":"notes"},"transform":[{"filter":"datum.k==='b5'"}],"mark":{"type":"text","align":"left","baseline":"top","lineBreak":"\n","lineHeight":18,"fontSize":15,"fontWeight":"normal","color":"#1a1a1a"},"encoding":{"text":{"field":"label"},"x":{"datum":9620,"type":"quantitative","title":null},"y":{"datum":2748,"type":"quantitative","title":null}}}]},

{"width":199,"height":131,"view":{"stroke":"#b8b8b8"},"layer":[
 {"data":{"name":"c1"},"mark":{"type":"circle","size":16,"opacity":1,"color":"#219c21"},"encoding":{"x":{"field":"x","type":"quantitative","scale":{"domain":[7750,11480],"nice":false},"axis":{"values":[8000,10000],"format":"d"},"title":null},"y":{"field":"y","type":"quantitative","scale":{"domain":[0,4450],"nice":false},"axis":{"values":[0,2000,4000],"format":"d"},"title":"UKF-1T"}}},
 {"data":{"name":"fits"},"transform":[{"filter":"datum.k==='c1'"}],"mark":{"type":"rule","color":"#808080","strokeWidth":1},"encoding":{"x":{"field":"x1","type":"quantitative","title":null},"y":{"field":"y1","type":"quantitative","title":"UKF-1T"},"x2":{"field":"x2"},"y2":{"field":"y2"}}},
 {"data":{"name":"notes"},"transform":[{"filter":"datum.k==='c1'"}],"mark":{"type":"text","align":"left","baseline":"top","lineBreak":"\n","lineHeight":18,"fontSize":15,"fontWeight":"normal","color":"#1a1a1a"},"encoding":{"text":{"field":"label"},"x":{"datum":9620,"type":"quantitative","title":null},"y":{"datum":3957,"type":"quantitative","title":"UKF-1T"}}}]},
{"width":199,"height":131,"view":{"stroke":"#b8b8b8"},"layer":[
 {"data":{"name":"c2"},"mark":{"type":"circle","size":16,"opacity":1,"color":"#219c21"},"encoding":{"x":{"field":"x","type":"quantitative","scale":{"domain":[7750,11480],"nice":false},"axis":{"values":[8000,10000],"format":"d"},"title":null},"y":{"field":"y","type":"quantitative","scale":{"domain":[0,3035],"nice":false},"axis":{"values":[0,1000,2000,3000],"format":"d"},"title":null}}},
 {"data":{"name":"fits"},"transform":[{"filter":"datum.k==='c2'"}],"mark":{"type":"rule","color":"#808080","strokeWidth":1},"encoding":{"x":{"field":"x1","type":"quantitative","title":null},"y":{"field":"y1","type":"quantitative","title":null},"x2":{"field":"x2"},"y2":{"field":"y2"}}},
 {"data":{"name":"notes"},"transform":[{"filter":"datum.k==='c2'"}],"mark":{"type":"text","align":"left","baseline":"top","lineBreak":"\n","lineHeight":18,"fontSize":15,"fontWeight":"normal","color":"#1a1a1a"},"encoding":{"text":{"field":"label"},"x":{"datum":9620,"type":"quantitative","title":null},"y":{"datum":2699,"type":"quantitative","title":null}}}]},
{"width":199,"height":131,"view":{"stroke":"#b8b8b8"},"layer":[
 {"data":{"name":"c3"},"mark":{"type":"circle","size":16,"opacity":1,"color":"#219c21"},"encoding":{"x":{"field":"x","type":"quantitative","scale":{"domain":[7750,11480],"nice":false},"axis":{"values":[8000,10000],"format":"d"},"title":null},"y":{"field":"y","type":"quantitative","scale":{"domain":[0,2020],"nice":false},"axis":{"values":[0,1000,2000],"format":"d"},"title":null}}},
 {"data":{"name":"fits"},"transform":[{"filter":"datum.k==='c3'"}],"mark":{"type":"rule","color":"#808080","strokeWidth":1},"encoding":{"x":{"field":"x1","type":"quantitative","title":null},"y":{"field":"y1","type":"quantitative","title":null},"x2":{"field":"x2"},"y2":{"field":"y2"}}},
 {"data":{"name":"notes"},"transform":[{"filter":"datum.k==='c3'"}],"mark":{"type":"text","align":"left","baseline":"top","lineBreak":"\n","lineHeight":18,"fontSize":15,"fontWeight":"normal","color":"#1a1a1a"},"encoding":{"text":{"field":"label"},"x":{"datum":9620,"type":"quantitative","title":null},"y":{"datum":1796,"type":"quantitative","title":null}}}]},
{"width":199,"height":131,"view":{"stroke":"#b8b8b8"},"layer":[
 {"data":{"name":"c4"},"mark":{"type":"circle","size":16,"opacity":1,"color":"#219c21"},"encoding":{"x":{"field":"x","type":"quantitative","scale":{"domain":[7750,11480],"nice":false},"axis":{"values":[8000,10000],"format":"d"},"title":null},"y":{"field":"y","type":"quantitative","scale":{"domain":[0,1510],"nice":false},"axis":{"values":[0,500,1000,1500],"format":"d"},"title":null}}},
 {"data":{"name":"fits"},"transform":[{"filter":"datum.k==='c4'"}],"mark":{"type":"rule","color":"#808080","strokeWidth":1},"encoding":{"x":{"field":"x1","type":"quantitative","title":null},"y":{"field":"y1","type":"quantitative","title":null},"x2":{"field":"x2"},"y2":{"field":"y2"}}},
 {"data":{"name":"notes"},"transform":[{"filter":"datum.k==='c4'"}],"mark":{"type":"text","align":"left","baseline":"top","lineBreak":"\n","lineHeight":18,"fontSize":15,"fontWeight":"normal","color":"#1a1a1a"},"encoding":{"text":{"field":"label"},"x":{"datum":9620,"type":"quantitative","title":null},"y":{"datum":1343,"type":"quantitative","title":null}}}]},
{"width":192,"height":131,"view":{"stroke":"#b8b8b8"},"layer":[
 {"data":{"name":"c5"},"mark":{"type":"circle","size":16,"opacity":1,"color":"#219c21"},"encoding":{"x":{"field":"x","type":"quantitative","scale":{"domain":[7750,11349],"nice":false},"axis":{"values":[8000,10000],"format":"d"},"title":null},"y":{"field":"y","type":"quantitative","scale":{"domain":[0,1010],"nice":false},"axis":{"values":[0,500,1000],"format":"d"},"title":null}}},
 {"data":{"name":"fits"},"transform":[{"filter":"datum.k==='c5'"}],"mark":{"type":"rule","color":"#808080","strokeWidth":1},"encoding":{"x":{"field":"x1","type":"quantitative","title":null},"y":{"field":"y1","type":"quantitative","title":null},"x2":{"field":"x2"},"y2":{"field":"y2"}}},
 {"data":{"name":"notes"},"transform":[{"filter":"datum.k==='c5'"}],"mark":{"type":"text","align":"left","baseline":"top","lineBreak":"\n","lineHeight":18,"fontSize":15,"fontWeight":"normal","color":"#1a1a1a"},"encoding":{"text":{"field":"label"},"x":{"datum":9620,"type":"quantitative","title":null},"y":{"datum":898,"type":"quantitative","title":null}}}]},

{"width":199,"height":131,"view":{"stroke":"#262626"},"layer":[
 {"data":{"name":"d1"},"mark":{"type":"circle","size":16,"opacity":1,"color":"#b03be8"},"encoding":{"x":{"field":"x","type":"quantitative","scale":{"domain":[7750,11480],"nice":false},"axis":{"values":[8000,10000],"format":"d","labelPadding":10},"title":null},"y":{"field":"y","type":"quantitative","scale":{"domain":[0,10050],"nice":false},"axis":{"values":[0,5000,10000],"format":"d"},"title":"UKF-2T"}}},
 {"data":{"name":"fits"},"transform":[{"filter":"datum.k==='d1'"}],"mark":{"type":"rule","color":"#808080","strokeWidth":1},"encoding":{"x":{"field":"x1","type":"quantitative","title":null},"y":{"field":"y1","type":"quantitative","title":"UKF-2T"},"x2":{"field":"x2"},"y2":{"field":"y2"}}},
 {"data":{"name":"notes"},"transform":[{"filter":"datum.k==='d1'"}],"mark":{"type":"text","align":"left","baseline":"top","lineBreak":"\n","lineHeight":18,"fontSize":15,"fontWeight":"bold","color":"#1a1a1a"},"encoding":{"text":{"field":"label"},"x":{"datum":9620,"type":"quantitative","title":null},"y":{"datum":8937,"type":"quantitative","title":"UKF-2T"}}}]},
{"width":199,"height":131,"view":{"stroke":"#262626"},"layer":[
 {"data":{"name":"d2"},"mark":{"type":"circle","size":16,"opacity":1,"color":"#b03be8"},"encoding":{"x":{"field":"x","type":"quantitative","scale":{"domain":[7750,11480],"nice":false},"axis":{"values":[8000,10000],"format":"d","labelPadding":10},"title":null},"y":{"field":"y","type":"quantitative","scale":{"domain":[0,5980],"nice":false},"axis":{"values":[0,5000],"format":"d"},"title":null}}},
 {"data":{"name":"fits"},"transform":[{"filter":"datum.k==='d2'"}],"mark":{"type":"rule","color":"#808080","strokeWidth":1},"encoding":{"x":{"field":"x1","type":"quantitative","title":null},"y":{"field":"y1","type":"quantitative","title":null},"x2":{"field":"x2"},"y2":{"field":"y2"}}},
 {"data":{"name":"notes"},"transform":[{"filter":"datum.k==='d2'"}],"mark":{"type":"text","align":"left","baseline":"top","lineBreak":"\n","lineHeight":18,"fontSize":15,"fontWeight":"bold","color":"#1a1a1a"},"encoding":{"text":{"field":"label"},"x":{"datum":9620,"type":"quantitative","title":null},"y":{"datum":5318,"type":"quantitative","title":null}}}]},
{"width":199,"height":131,"view":{"stroke":"#262626"},"layer":[
 {"data":{"name":"d3"},"mark":{"type":"circle","size":16,"opacity":1,"color":"#b03be8"},"encoding":{"x":{"field":"x","type":"quantitative","scale":{"domain":[7750,11480],"nice":false},"axis":{"values":[8000,10000],"format":"d","labelPadding":10},"title":null},"y":{"field":"y","type":"quantitative","scale":{"domain":[0,3000],"nice":false},"axis":{"values":[0,1000,2000,3000],"format":"d"},"title":null}}},
 {"data":{"name":"fits"},"transform":[{"filter":"datum.k==='d3'"}],"mark":{"type":"rule","color":"#808080","strokeWidth":1},"encoding":{"x":{"field":"x1","type":"quantitative","title":null},"y":{"field":"y1","type":"quantitative","title":null},"x2":{"field":"x2"},"y2":{"field":"y2"}}},
 {"data":{"name":"notes"},"transform":[{"filter":"datum.k==='d3'"}],"mark":{"type":"text","align":"left","baseline":"top","lineBreak":"\n","lineHeight":18,"fontSize":15,"fontWeight":"bold","color":"#1a1a1a"},"encoding":{"text":{"field":"label"},"x":{"datum":9620,"type":"quantitative","title":null},"y":{"datum":2668,"type":"quantitative","title":null}}}]},
{"width":199,"height":131,"view":{"stroke":"#262626"},"layer":[
 {"data":{"name":"d4"},"mark":{"type":"circle","size":16,"opacity":1,"color":"#b03be8"},"encoding":{"x":{"field":"x","type":"quantitative","scale":{"domain":[7750,11480],"nice":false},"axis":{"values":[8000,10000],"format":"d","labelPadding":10},"title":null},"y":{"field":"y","type":"quantitative","scale":{"domain":[0,2000],"nice":false},"axis":{"values":[0,1000,2000],"format":"d"},"title":null}}},
 {"data":{"name":"fits"},"transform":[{"filter":"datum.k==='d4'"}],"mark":{"type":"rule","color":"#808080","strokeWidth":1},"encoding":{"x":{"field":"x1","type":"quantitative","title":null},"y":{"field":"y1","type":"quantitative","title":null},"x2":{"field":"x2"},"y2":{"field":"y2"}}},
 {"data":{"name":"notes"},"transform":[{"filter":"datum.k==='d4'"}],"mark":{"type":"text","align":"left","baseline":"top","lineBreak":"\n","lineHeight":18,"fontSize":15,"fontWeight":"bold","color":"#1a1a1a"},"encoding":{"text":{"field":"label"},"x":{"datum":9620,"type":"quantitative","title":null},"y":{"datum":1779,"type":"quantitative","title":null}}}]},
{"width":192,"height":131,"view":{"stroke":"#262626"},"layer":[
 {"data":{"name":"d5"},"mark":{"type":"circle","size":16,"opacity":1,"color":"#b03be8"},"encoding":{"x":{"field":"x","type":"quantitative","scale":{"domain":[7750,11349],"nice":false},"axis":{"values":[8000,10000],"format":"d","labelPadding":10},"title":null},"y":{"field":"y","type":"quantitative","scale":{"domain":[0,1500],"nice":false},"axis":{"values":[0,500,1000,1500],"format":"d"},"title":null}}},
 {"data":{"name":"fits"},"transform":[{"filter":"datum.k==='d5'"}],"mark":{"type":"rule","color":"#808080","strokeWidth":1},"encoding":{"x":{"field":"x1","type":"quantitative","title":null},"y":{"field":"y1","type":"quantitative","title":null},"x2":{"field":"x2"},"y2":{"field":"y2"}}},
 {"data":{"name":"notes"},"transform":[{"filter":"datum.k==='d5'"}],"mark":{"type":"text","align":"left","baseline":"top","lineBreak":"\n","lineHeight":18,"fontSize":15,"fontWeight":"bold","color":"#1a1a1a"},"encoding":{"text":{"field":"label"},"x":{"datum":9620,"type":"quantitative","title":null},"y":{"datum":1334,"type":"quantitative","title":null}}}]}
]
}
